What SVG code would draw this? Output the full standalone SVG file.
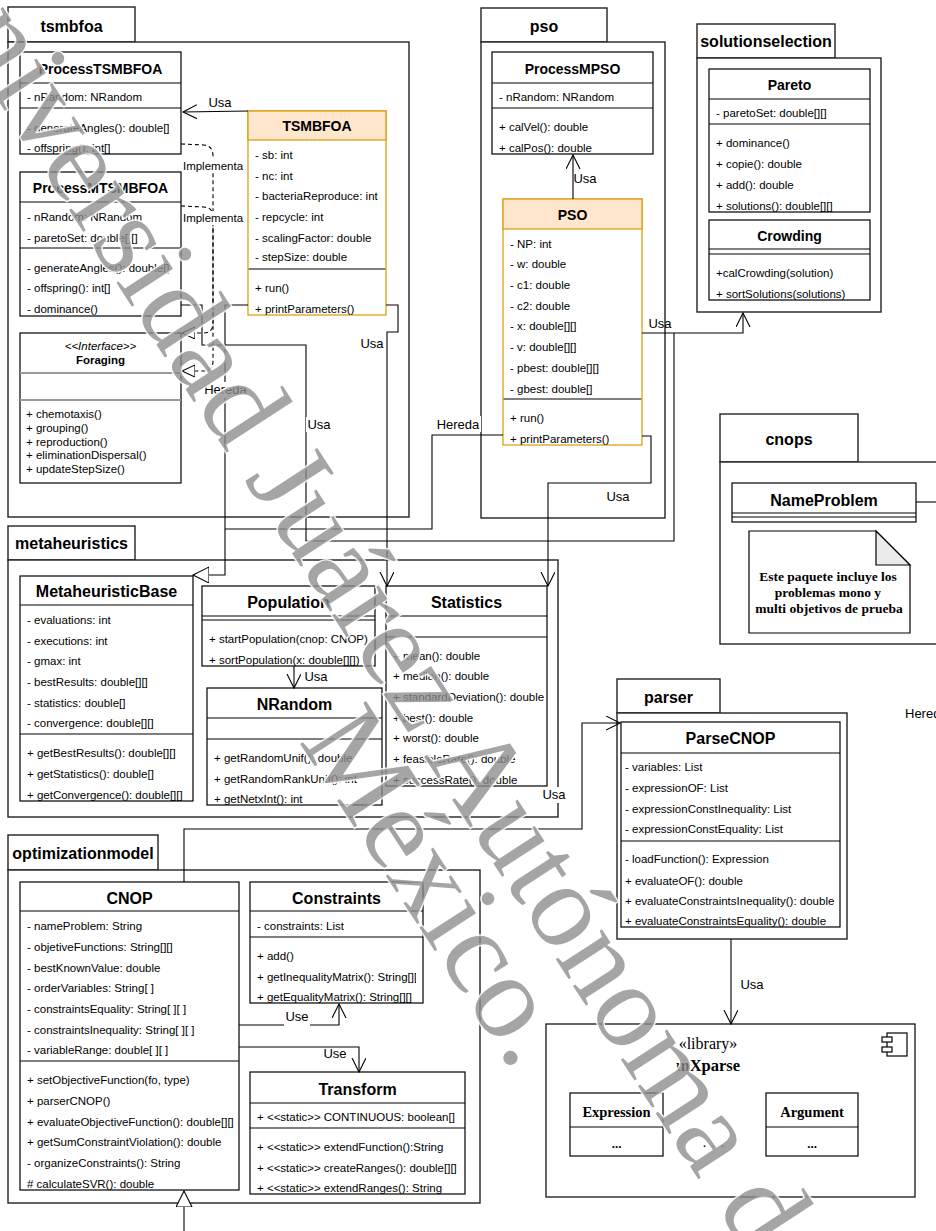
<svg xmlns="http://www.w3.org/2000/svg" width="936" height="1231" viewBox="0 0 936 1231">
<style>
text{font-family:"Liberation Sans",Arial,sans-serif;fill:#000}
.m{font-size:11.5px}
.it{font-size:11.5px;font-style:italic;text-anchor:middle}
.fb{font-size:11.5px;font-weight:bold;text-anchor:middle}
.t{font-size:14px;font-weight:bold;text-anchor:middle}
.t16{font-size:16px;font-weight:bold;text-anchor:middle}
.pk{font-size:16px;font-weight:bold;text-anchor:middle}
.lb{font-size:13px;text-anchor:middle}
.lbs{font-size:13px}
.imp{font-size:11.5px;text-anchor:middle}
.box{fill:#fff;stroke:#000;stroke-width:1.2}
.sep{fill:none;stroke:#000;stroke-width:1.2}
.gsep{fill:none;stroke:#9a9a9a;stroke-width:2}
.pkg{fill:#fff;stroke:#222;stroke-width:1.4}
.hd{fill:#ffe6cc;stroke:#d79b00;stroke-width:1.2}
.ob{fill:#fff;stroke:#d79b00;stroke-width:1.2}
.c{fill:none;stroke:#000;stroke-width:1.1}
.d{fill:none;stroke:#000;stroke-width:1.1;stroke-dasharray:4 3}
.bg{fill:#fff}
.sf{font-family:"Liberation Serif","Times New Roman",serif}
.wm{font-family:"Liberation Serif","Times New Roman",serif;font-size:120px;fill:#8c8c8c;fill-opacity:0.78;stroke:#fff;stroke-width:3;stroke-opacity:0.85;paint-order:stroke}
</style>
<defs>
<marker id="open" markerUnits="userSpaceOnUse" markerWidth="16" markerHeight="16" refX="14" refY="7" orient="auto">
<path d="M0,0 L14,7 L0,14" fill="none" stroke="#000" stroke-width="1.1"/>
</marker>
<marker id="inh" markerUnits="userSpaceOnUse" markerWidth="18" markerHeight="18" refX="16" refY="8" orient="auto">
<path d="M0,0 L16,8 L0,16 Z" fill="#fff" stroke="#000" stroke-width="1.1"/>
</marker>
<marker id="real" markerUnits="userSpaceOnUse" markerWidth="15" markerHeight="14" refX="13" refY="6" orient="auto">
<path d="M0,0 L13,6 L0,12 Z" fill="#fff" stroke="#000" stroke-width="1.1"/>
</marker>
<clipPath id="clipStat"><rect x="386" y="586" width="158" height="200"/></clipPath>
<clipPath id="clipCons"><rect x="250" y="882" width="166" height="121"/></clipPath>
<clipPath id="clipParse"><rect x="621" y="722" width="216" height="205"/></clipPath>
</defs>

<rect x="0" y="0" width="936" height="1231" fill="#fff"/>

<!-- packages -->
<g id="pkg-tsmbfoa">
<rect class="pkg" x="8" y="7" width="127" height="35"/>
<rect class="pkg" x="8" y="42" width="401" height="475"/>
<text class="pk" x="71.5" y="32">tsmbfoa</text>
</g>
<g id="pkg-pso">
<rect class="pkg" x="481" y="8" width="126" height="34"/>
<rect class="pkg" x="481" y="42" width="184" height="476"/>
<text class="pk" x="544" y="32">pso</text>
</g>
<g id="pkg-solutionselection">
<rect class="pkg" x="697" y="24" width="138" height="34"/>
<rect class="pkg" x="697" y="58" width="184" height="254"/>
<text class="pk" x="766" y="47">solutionselection</text>
</g>
<g id="pkg-cnops">
<rect class="pkg" x="720" y="414" width="138" height="48"/>
<rect class="pkg" x="720" y="462" width="240" height="182"/>
<text class="pk" x="789" y="445">cnops</text>
</g>
<g id="pkg-metaheuristics">
<rect class="pkg" x="8" y="526" width="127" height="34"/>
<rect class="pkg" x="8" y="560" width="550" height="257"/>
<text class="pk" x="71.5" y="549">metaheuristics</text>
</g>
<g id="pkg-parser">
<rect class="pkg" x="617" y="679" width="103" height="34"/>
<rect class="pkg" x="617" y="713" width="230" height="226"/>
<text class="pk" x="668.5" y="703">parser</text>
</g>
<g id="pkg-optimizationmodel">
<rect class="pkg" x="8" y="835" width="150" height="35"/>
<rect class="pkg" x="8" y="870" width="472" height="333"/>
<text class="pk" x="83" y="859">optimizationmodel</text>
</g>

<!-- classes -->
<g id="ProcessTSMBFOA">
<rect class="box" x="20" y="52" width="161" height="102"/>
<path class="sep" d="M20,83 H181 M20,108 H181"/>
<text class="t" x="100.5" y="74">ProcessTSMBFOA</text>
<text class="m" x="27" y="101">- nRandom: NRandom</text>
<text class="m" x="27" y="132">- generateAngles(): double[]</text>
<text class="m" x="27" y="152">- offspring(): int[]</text>
</g>
<g id="ProcessMTSMBFOA">
<rect class="box" x="20" y="172" width="161" height="144"/>
<path class="sep" d="M20,202 H181 M20,248 H181"/>
<text class="t" x="100.5" y="193">ProcessMTSMBFOA</text>
<text class="m" x="27" y="221">- nRandom: NRandom</text>
<text class="m" x="27" y="242">- paretoSet: double[][]</text>
<text class="m" x="27" y="272">- generateAngles(): double[]</text>
<text class="m" x="27" y="292">- offspring(): int[]</text>
<text class="m" x="27" y="313">- dominance()</text>
</g>
<g id="Foraging">
<rect class="box" x="20" y="333" width="161" height="150"/>
<path class="gsep" d="M20,373 H181 M20,400 H181"/>
<text class="it" x="100.5" y="350">&lt;&lt;Interface&gt;&gt;</text>
<text class="fb" x="100.5" y="364">Foraging</text>
<text class="m" x="26" y="418">+ chemotaxis()</text>
<text class="m" x="26" y="432">+ grouping()</text>
<text class="m" x="26" y="446">+ reproduction()</text>
<text class="m" x="26" y="459">+ eliminationDispersal()</text>
<text class="m" x="26" y="473">+ updateStepSize()</text>
</g>
<g id="TSMBFOA">
<rect class="ob" x="248" y="111" width="138" height="204"/>
<rect class="hd" x="248" y="111" width="138" height="29"/>
<path class="sep" d="M248.6,269 H385.4"/>
<text class="t" x="317" y="131">TSMBFOA</text>
<text class="m" x="255" y="159">- sb: int</text>
<text class="m" x="255" y="180">- nc: int</text>
<text class="m" x="255" y="200">- bacteriaReproduce: int</text>
<text class="m" x="255" y="221">- repcycle: int</text>
<text class="m" x="255" y="242">- scalingFactor: double</text>
<text class="m" x="255" y="261">- stepSize: double</text>
<text class="m" x="255" y="292">+ run()</text>
<text class="m" x="255" y="313">+ printParameters()</text>
</g>
<g id="ProcessMPSO">
<rect class="box" x="492" y="52" width="161" height="102"/>
<path class="sep" d="M492,83 H653 M492,108 H653"/>
<text class="t" x="572.5" y="74">ProcessMPSO</text>
<text class="m" x="499" y="101">- nRandom: NRandom</text>
<text class="m" x="499" y="131">+ calVel(): double</text>
<text class="m" x="499" y="152">+ calPos(): double</text>
</g>
<g id="PSO">
<rect class="ob" x="503" y="199" width="139" height="246"/>
<rect class="hd" x="503" y="199" width="139" height="30"/>
<path class="sep" d="M503.6,399 H641.4"/>
<text class="t" x="572.5" y="220">PSO</text>
<text class="m" x="510" y="248">- NP: int</text>
<text class="m" x="510" y="268">- w: double</text>
<text class="m" x="510" y="289">- c1: double</text>
<text class="m" x="510" y="310">- c2: double</text>
<text class="m" x="510" y="330">- x: double[][]</text>
<text class="m" x="510" y="351">- v: double[][]</text>
<text class="m" x="510" y="372">- pbest: double[][]</text>
<text class="m" x="510" y="393">- gbest: double[]</text>
<text class="m" x="510" y="422">+ run()</text>
<text class="m" x="510" y="443">+ printParameters()</text>
</g>
<g id="Pareto">
<rect class="box" x="709" y="69" width="161" height="143"/>
<path class="sep" d="M709,99 H870 M709,124 H870"/>
<text class="t" x="789.5" y="90">Pareto</text>
<text class="m" x="716" y="117">- paretoSet: double[][]</text>
<text class="m" x="716" y="147">+ dominance()</text>
<text class="m" x="716" y="168">+ copie(): double</text>
<text class="m" x="716" y="189">+ add(): double</text>
<text class="m" x="716" y="210">+ solutions(): double[][]</text>
</g>
<g id="Crowding">
<rect class="box" x="709" y="220" width="161" height="80"/>
<path class="sep" d="M709,249 H870 M709,254 H870"/>
<text class="t" x="789.5" y="241">Crowding</text>
<text class="m" x="716" y="277">+calCrowding(solution)</text>
<text class="m" x="716" y="298">+ sortSolutions(solutions)</text>
</g>
<g id="NameProblem">
<rect class="box" x="732" y="483" width="184" height="39"/>
<path class="sep" d="M732,513 H916 M732,517 H916"/>
<text class="t16" x="824" y="506">NameProblem</text>
</g>
<g id="note-cnops">
<path d="M749,531 H876 L910,565 V633 H749 Z" fill="#fff" stroke="#000" stroke-width="1.2"/>
<path d="M876,531 V565 H910 Z" fill="#ebebeb" stroke="#000" stroke-width="1.2"/>
<text class="sf" font-size="13.5" font-weight="bold" text-anchor="middle"><tspan x="828" y="581">Este paquete incluye los</tspan><tspan x="828" y="597">problemas mono y</tspan><tspan x="829" y="613">multi objetivos de prueba</tspan></text>
</g>
<g id="MetaheuristicBase">
<rect class="box" x="20" y="576" width="173" height="225"/>
<path class="sep" d="M20,605 H193 M20,734 H193"/>
<text class="t16" x="106.5" y="597">MetaheuristicBase</text>
<text class="m" x="27" y="624">- evaluations: int</text>
<text class="m" x="27" y="645">- executions: int</text>
<text class="m" x="27" y="665">- gmax: int</text>
<text class="m" x="27" y="686">- bestResults: double[][]</text>
<text class="m" x="27" y="707">- statistics: double[]</text>
<text class="m" x="27" y="727">- convergence: double[][]</text>
<text class="m" x="27" y="757">+ getBestResults(): double[][]</text>
<text class="m" x="27" y="778">+ getStatistics(): double[]</text>
<text class="m" x="27" y="799">+ getConvergence(): double[][]</text>
</g>
<g id="Population">
<rect class="box" x="202" y="586" width="173" height="80"/>
<path class="sep" d="M202,616 H375 M202,620 H375"/>
<text class="t16" x="288.5" y="608">Population</text>
<text class="m" x="209" y="643">+ startPopulation(cnop: CNOP)</text>
<text class="m" x="209" y="664">+ sortPopulation(x: double[][])</text>
</g>
<g id="NRandom">
<rect class="box" x="207" y="688" width="175" height="117"/>
<path class="sep" d="M207,718 H382 M207,739 H382"/>
<text class="t16" x="294.5" y="710">NRandom</text>
<text class="m" x="214" y="762">+ getRandomUnif(): double</text>
<text class="m" x="214" y="783">+ getRandomRankUnif(): int</text>
<text class="m" x="214" y="803">+ getNetxInt(): int</text>
</g>
<g id="Statistics">
<rect class="box" x="386" y="586" width="161" height="200"/>
<path class="sep" d="M386,616 H547 M386,637 H547"/>
<text class="t16" x="466.5" y="608">Statistics</text>
<g clip-path="url(#clipStat)">
<text class="m" x="393" y="660">+ mean(): double</text>
<text class="m" x="393" y="680">+ median(): double</text>
<text class="m" x="393" y="701">+ standardDeviation(): double</text>
<text class="m" x="393" y="722">+ best(): double</text>
<text class="m" x="393" y="742">+ worst(): double</text>
<text class="m" x="393" y="763">+ feasibleRate(): double</text>
<text class="m" x="393" y="784">+ successRate(): double</text>
</g>
</g>
<g id="ParseCNOP">
<rect class="box" x="621" y="722" width="219" height="205"/>
<path class="sep" d="M621,753 H840 M621,841 H840"/>
<text class="t16" x="730.5" y="744">ParseCNOP</text>
<g clip-path="url(#clipParse)">
<text class="m" x="625" y="771">- variables: List</text>
<text class="m" x="625" y="792">- expressionOF: List</text>
<text class="m" x="625" y="813">- expressionConstInequality: List</text>
<text class="m" x="625" y="833">- expressionConstEquality: List</text>
<text class="m" x="625" y="863">- loadFunction(): Expression</text>
<text class="m" x="625" y="885">+ evaluateOF(): double</text>
<text class="m" x="625" y="905">+ evaluateConstraintsInequality(): double</text>
<text class="m" x="625" y="925">+ evaluateConstraintsEquality(): double</text>
</g>
</g>
<g id="CNOP">
<rect class="box" x="20" y="882" width="219" height="308"/>
<path class="sep" d="M20,911 H239 M20,1061 H239"/>
<text class="t16" x="129.5" y="904">CNOP</text>
<text class="m" x="27" y="930">- nameProblem: String</text>
<text class="m" x="27" y="951">- objetiveFunctions: String[][]</text>
<text class="m" x="27" y="972">- bestKnownValue: double</text>
<text class="m" x="27" y="992">- orderVariables: String[ ]</text>
<text class="m" x="27" y="1013">- constraintsEquality: String[ ][ ]</text>
<text class="m" x="27" y="1034">- constraintsInequality: String[ ][ ]</text>
<text class="m" x="27" y="1054">- variableRange: double[ ][ ]</text>
<text class="m" x="27" y="1084">+ setObjectiveFunction(fo, type)</text>
<text class="m" x="27" y="1105">+ parserCNOP()</text>
<text class="m" x="27" y="1126">+ evaluateObjectiveFunction(): double[][]</text>
<text class="m" x="27" y="1146">+ getSumConstraintViolation(): double</text>
<text class="m" x="27" y="1167">- organizeConstraints(): String</text>
<text class="m" x="27" y="1188"># calculateSVR(): double</text>
</g>
<g id="Constraints">
<rect class="box" x="250" y="882" width="173" height="121"/>
<path class="sep" d="M250,911 H423 M250,937 H423"/>
<text class="t16" x="336.5" y="904">Constraints</text>
<g clip-path="url(#clipCons)">
<text class="m" x="257" y="930">- constraints: List</text>
<text class="m" x="257" y="960">+ add()</text>
<text class="m" x="257" y="981">+ getInequalityMatrix(): String[][]</text>
<text class="m" x="257" y="1001">+ getEqualityMatrix(): String[][]</text>
</g>
</g>
<g id="Transform">
<rect class="box" x="250" y="1072" width="215" height="122"/>
<path class="sep" d="M250,1103 H465 M250,1128 H465"/>
<text class="t16" x="357.5" y="1095">Transform</text>
<text class="m" x="257" y="1121">+ &lt;&lt;static&gt;&gt; CONTINUOUS: boolean[]</text>
<text class="m" x="257" y="1151">+ &lt;&lt;static&gt;&gt; extendFunction():String</text>
<text class="m" x="257" y="1172">+ &lt;&lt;static&gt;&gt; createRanges(): double[][]</text>
<text class="m" x="257" y="1192">+ &lt;&lt;static&gt;&gt; extendRanges(): String</text>
</g>
<g id="mXparse">
<rect class="box" x="546" y="1024" width="369" height="173"/>
<rect class="box" x="887" y="1033" width="20" height="23"/>
<rect class="box" x="882" y="1037" width="10" height="5"/>
<rect class="box" x="882" y="1047" width="10" height="5"/>
<text class="sf" font-size="16" text-anchor="middle" x="708" y="1049">«library»</text>
<text class="sf" font-size="16.5" font-weight="bold" text-anchor="middle" x="708" y="1071">mXparse</text>
<text class="sf" font-size="14" text-anchor="middle" letter-spacing="1" x="714" y="1147">. . .</text>
</g>
<g id="Expression">
<rect class="box" x="570" y="1093" width="93" height="63"/>
<path class="sep" d="M570,1127 H663"/>
<text class="sf" font-size="14.5" font-weight="bold" text-anchor="middle" x="616.5" y="1117">Expression</text>
<text class="sf" font-size="13" font-weight="bold" text-anchor="middle" x="616.5" y="1148">...</text>
</g>
<g id="Argument">
<rect class="box" x="766" y="1093" width="92" height="63"/>
<path class="sep" d="M766,1127 H858"/>
<text class="sf" font-size="14.5" font-weight="bold" text-anchor="middle" x="812" y="1117">Argument</text>
<text class="sf" font-size="13" font-weight="bold" text-anchor="middle" x="812" y="1148">...</text>
</g>

<!-- connectors -->
<g id="connectors">
<path class="c" d="M248,111 L183,112" marker-end="url(#open)"/>
<text class="lb" x="220" y="107">Usa</text>

<path class="d" d="M181,144 L204,145 Q213,146 213,156 L213,323 Q213,333 203,333 L182,333" marker-end="url(#real)"/>
<path class="d" d="M181,206 L204,207 Q213,208 213,216 L213,361 Q213,371 203,371 L182,371" marker-end="url(#real)"/>
<rect class="bg" x="183" y="159" width="60" height="14"/>
<text class="imp" x="213" y="170">Implementa</text>
<rect class="bg" x="183" y="211" width="60" height="14"/>
<text class="imp" x="213" y="222">Implementa</text>

<path class="c" d="M248,305 L225,305 L225,575 L193,575" marker-end="url(#inh)"/>
<path class="c" d="M503,435 L432,435 L432,529 L225,529"/>
<rect class="bg" x="202" y="382" width="47" height="16"/>
<text class="lb" font-size="13.5" x="225.5" y="394">Hereda</text>
<rect class="bg" x="435" y="416" width="46" height="16"/>
<text class="lb" font-size="13.5" x="458" y="429">Hereda</text>

<path class="c" d="M386,305 L398,305 L398,332 L387,332 L387,586" marker-end="url(#open)"/>
<text class="lb" x="372" y="348">Usa</text>

<path class="c" d="M642,436 L651,436 L651,483 L548,483 L548,586" marker-end="url(#open)"/>
<text class="lb" x="618" y="501">Usa</text>

<path class="c" d="M181,305 L202,305 L202,345 L306,345 L306,541 L674,541 L674,333"/>
<rect class="bg" x="306" y="417" width="26" height="15"/>
<text class="lb" x="319" y="429">Usa</text>

<path class="c" d="M642,333 L743,333 L743,313" marker-end="url(#open)"/>
<text class="lb" x="660" y="328">Usa</text>

<path class="c" d="M573,199 L573,155" marker-end="url(#open)"/>
<text class="lb" x="585" y="183">Usa</text>

<path class="c" d="M294,666 L294,688" marker-end="url(#open)"/>
<text class="lb" x="316" y="681">Usa</text>

<path class="c" d="M184,882 L184,829 L582,829 L582,723 L620,723" marker-end="url(#open)"/>
<rect class="bg" x="541" y="787" width="26" height="16"/>
<text class="lb" x="554" y="799">Usa</text>

<path class="c" d="M239,1025 L339,1025 L339,1004" marker-end="url(#open)"/>
<rect class="bg" x="284" y="1008" width="26" height="19"/>
<text class="lb" x="297" y="1021">Use</text>

<path class="c" d="M239,1047 L359,1047 L359,1072" marker-end="url(#open)"/>
<text class="lb" x="335" y="1058">Use</text>

<path class="c" d="M731,939 L731,1024" marker-end="url(#open)"/>
<text class="lb" x="752" y="989">Usa</text>

<path class="c" d="M184,1231 L184,1191" marker-end="url(#inh)"/>

<path class="c" d="M916,502 L936,502"/>
<text class="lbs" x="905" y="718">Hereda</text>
</g>

<!-- watermark -->
<g id="watermark" transform="translate(-92,-38) rotate(57)">
<text class="wm" x="0" y="0">Universidad Juárez Autónoma de Tabasco.</text>
<text class="wm" x="1064" y="97" text-anchor="middle">México.</text>
</g>
</svg>
